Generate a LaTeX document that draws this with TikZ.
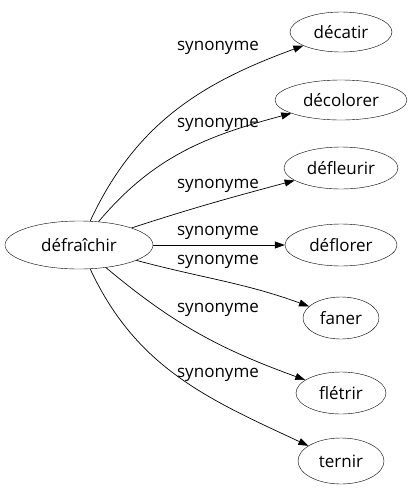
\documentclass[tikz,border=0pt]{standalone}
\usepackage{fontspec}
\setmainfont{Open Sans}
\usetikzlibrary{arrows.meta,shapes.geometric}
\begin{document}
\begin{tikzpicture}[x=1pt,y=-1pt,
  word/.style={draw,ellipse,inner sep=0pt,font=\fontsize{17}{19}\selectfont},
  lbl/.style={inner sep=0pt,font=\fontsize{17}{19}\selectfont},
  syn/.style={draw,-{Triangle[length=10pt,width=7pt]},line width=0.7pt}]
\useasboundingbox (0,0) rectangle (411,491);
\node[word,minimum width=148pt,minimum height=48pt] (src) at (79,245) {défraîchir};
\node[word,minimum width=102pt,minimum height=40pt] (n1) at (341,32) {décatir};
\node[word,minimum width=132pt,minimum height=40pt] (n2) at (341,100) {décolorer};
\node[word,minimum width=114pt,minimum height=42pt] (n3) at (341,168) {défleurir};
\node[word,minimum width=112pt,minimum height=42pt] (n4) at (341,245) {déflorer};
\node[word,minimum width=76pt,minimum height=42pt] (n5) at (341,318) {faner};
\node[word,minimum width=90pt,minimum height=42pt] (n6) at (341,393) {flétrir};
\node[word,minimum width=86pt,minimum height=46pt] (n7) at (341,461) {ternir};
\draw[syn] (src) to[out=65,in=200] (n1);
\draw[syn] (src) to[out=50,in=195] (n2);
\draw[syn] (src) to[out=18,in=195] (n3);
\draw[syn] (src) -- (n4);
\draw[syn] (src) to[out=-15,in=160] (n5);
\draw[syn] (src) to[out=-40,in=160] (n6);
\draw[syn] (src) to[out=-65,in=155] (n7);
\node[lbl] (l1) at (218,48) {synonyme};
\node[lbl] (l2) at (218,125) {synonyme};
\node[lbl] (l3) at (218,186) {synonyme};
\node[lbl] (l4) at (218,233) {synonyme};
\node[lbl] (l5) at (218,262) {synonyme};
\node[lbl] (l6) at (218,310) {synonyme};
\node[lbl] (l7) at (218,375) {synonyme};
\end{tikzpicture}
\end{document}
